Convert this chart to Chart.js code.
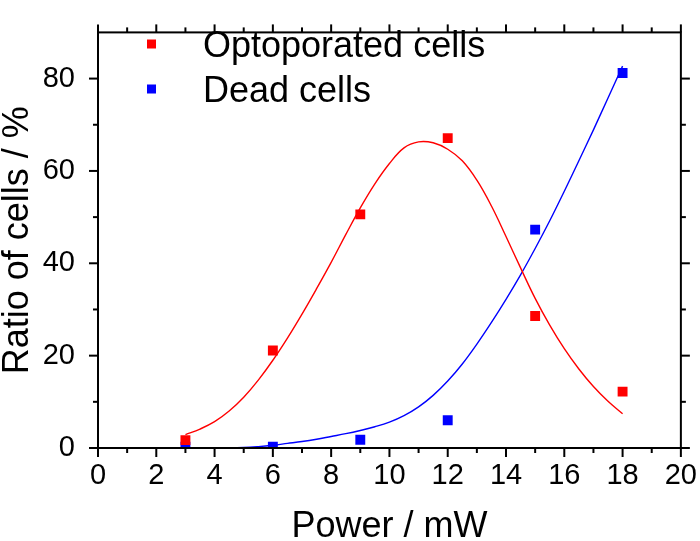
<!DOCTYPE html>
<html>
<head>
<meta charset="utf-8">
<script src="https://cdn.jsdelivr.net/npm/chart.js@4.4.1/dist/chart.umd.min.js"></script>
<style>
  html, body { margin: 0; padding: 0; background: #fff; }
</style>
</head>
<body>
<canvas id="chart" width="700" height="541"></canvas>
<script>
// measured points
const power = [3, 6, 9, 12, 15, 18];
const optoporated = [1.7, 21.1, 50.6, 67.1, 28.6, 12.2];
const dead = [0.3, 0.3, 1.8, 6.0, 47.3, 81.2];

// fitted curves
const optoFitX = [3, 3.5, 4, 4.5, 5, 5.5, 6, 6.5, 7, 7.5, 8, 8.5, 9, 9.5, 10, 10.5, 11, 11.5, 12, 12.5, 13, 13.5, 14, 14.5, 15, 15.5, 16, 16.5, 17, 17.5, 18];
const optoFitY = [2.9, 4.1, 5.7, 8.0, 11.0, 14.7, 19.0, 23.8, 29.0, 34.5, 40.2, 46.2, 52.0, 57.2, 61.6, 65.0, 66.3, 66.1, 64.7, 62.2, 58.0, 52.4, 45.8, 39.0, 32.4, 26.6, 21.5, 17.1, 13.3, 10.1, 7.4];
const deadFitX = [4.2, 5, 5.5, 6, 6.5, 7, 7.5, 8, 8.5, 9, 9.5, 10, 10.5, 11, 11.5, 12, 12.5, 13, 13.5, 14, 14.5, 15, 15.5, 16, 16.5, 17, 17.5, 18];
const deadFitY = [0, 0.1, 0.3, 0.6, 1.0, 1.4, 1.9, 2.5, 3.1, 3.8, 4.6, 5.6, 7.0, 8.9, 11.4, 14.5, 18.2, 22.5, 27.2, 32.2, 37.5, 43.2, 49.2, 55.6, 62.2, 68.9, 75.8, 82.7];

const xTicks = [0, 2, 4, 6, 8, 10, 12, 14, 16, 18, 20];
const xMinor = [1, 3, 5, 7, 9, 11, 13, 15, 17, 19];
const yTicks = [0, 20, 40, 60, 80];
const yMinor = [10, 30, 50, 70];

const seriesNames = ['Optoporated cells', 'Dead cells'];
const seriesColors = ['#ff0000', '#0000ff'];

const FONT = "'Liberation Sans', Arial, sans-serif";

const pts = (xs, ys) => xs.map((x, i) => ({ x: x, y: ys[i] }));

// box, ticks on all four sides, legend
const frame = {
  id: 'frame',
  afterDraw(chart) {
    const { ctx, chartArea: a, scales: { x, y } } = chart;
    ctx.save();
    ctx.strokeStyle = '#000';
    ctx.lineWidth = 2;
    ctx.lineCap = 'butt';
    const line = (x1, y1, x2, y2) => { ctx.beginPath(); ctx.moveTo(x1, y1); ctx.lineTo(x2, y2); ctx.stroke(); };

    ctx.strokeRect(a.left, a.top, a.right - a.left, a.bottom - a.top);

    xTicks.forEach(v => {
      const p = x.getPixelForValue(v);
      line(p, a.bottom, p, a.bottom + 9);
      line(p, a.top, p, a.top - 8);
    });
    xMinor.forEach(v => {
      const p = x.getPixelForValue(v);
      line(p, a.bottom, p, a.bottom + 5);
      line(p, a.top, p, a.top - 5);
    });
    yTicks.forEach(v => {
      const p = y.getPixelForValue(v);
      line(a.left - 9, p, a.left, p);
      line(a.right, p, a.right + 9, p);
    });
    yMinor.forEach(v => {
      const p = y.getPixelForValue(v);
      line(a.left - 5, p, a.left, p);
      line(a.right, p, a.right + 5, p);
    });

    // legend
    ctx.font = '36px ' + FONT;
    ctx.textBaseline = 'middle';
    ctx.textAlign = 'left';
    seriesNames.forEach((name, i) => {
      const cy = 44 + i * 45;
      ctx.fillStyle = seriesColors[i];
      ctx.fillRect(147, cy - 4.5, 9, 9);
      ctx.fillStyle = '#000';
      ctx.fillText(name, 203, cy + 3);
    });
    ctx.restore();
  }
};

new Chart(document.getElementById('chart'), {
  type: 'scatter',
  data: {
    datasets: [
      {
        label: seriesNames[0],
        data: pts(power, optoporated),
        pointStyle: 'rect',
        pointRadius: 7,
        borderWidth: 0,
        backgroundColor: seriesColors[0],
        order: 0
      },
      {
        label: seriesNames[1],
        data: pts(power, dead),
        pointStyle: 'rect',
        pointRadius: 7,
        borderWidth: 0,
        backgroundColor: seriesColors[1],
        order: 0
      },
      {
        label: 'fit 1',
        data: pts(optoFitX, optoFitY),
        showLine: true,
        pointRadius: 0,
        borderColor: seriesColors[0],
        borderWidth: 1.4,
        tension: 0.4,
        order: 1
      },
      {
        label: 'fit 2',
        data: pts(deadFitX, deadFitY),
        showLine: true,
        pointRadius: 0,
        borderColor: seriesColors[1],
        borderWidth: 1.4,
        tension: 0.4,
        order: 1
      }
    ]
  },
  options: {
    responsive: false,
    animation: false,
    layout: { padding: { top: 10, right: 17, left: 0, bottom: 0 } },
    plugins: {
      legend: { display: false },
      tooltip: { enabled: false }
    },
    scales: {
      x: {
        type: 'linear',
        min: 0,
        max: 20,
        afterBuildTicks: s => { s.ticks = xTicks.map(v => ({ value: v })); },
        afterFit: s => { s.height = 93; },
        grid: { display: false },
        border: { display: false },
        ticks: { color: '#000', font: { family: FONT, size: 29 }, padding: 3, maxRotation: 0, autoSkip: false },
        title: {
          display: true,
          text: 'Power / mW',
          color: '#000',
          font: { family: FONT, size: 36, lineHeight: 0.8 },
          padding: 0
        }
      },
      y: {
        type: 'linear',
        min: 0,
        max: 90,
        afterBuildTicks: s => { s.ticks = yTicks.map(v => ({ value: v })); },
        afterFit: s => { s.width = 98; },
        grid: { display: false },
        border: { display: false },
        ticks: { color: '#000', font: { family: FONT, size: 29 }, padding: 15 },
        title: {
          display: true,
          text: 'Ratio of cells / %',
          color: '#000',
          font: { family: FONT, size: 36, lineHeight: 1 },
          padding: 0
        }
      }
    }
  },
  plugins: [frame]
});
</script>
</body>
</html>
